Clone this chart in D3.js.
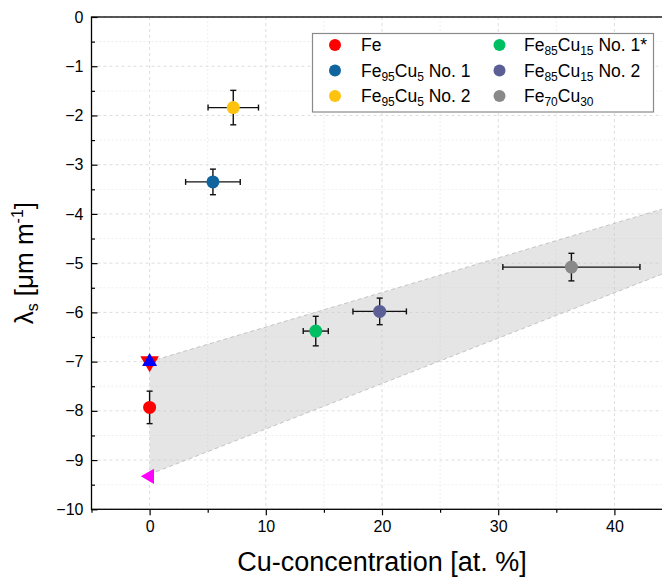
<!DOCTYPE html>
<html>
<head>
<meta charset="utf-8">
<script src="https://cdn.jsdelivr.net/npm/d3@7"></script>
<style>
  html, body { margin: 0; padding: 0; background: #fff; }
  svg { display: block; font-family: "Liberation Sans", Arial, sans-serif; }
</style>
</head>
<body>
<svg id="chart" width="662" height="579"></svg>
<script>
// Samples: Cu content (at. %) and saturation magnetostriction with uncertainties
const sampleLabels = ["Fe", "Fe_{95}Cu_{5} No. 1", "Fe_{95}Cu_{5} No. 2",
                      "Fe_{85}Cu_{15} No. 1*", "Fe_{85}Cu_{15} No. 2", "Fe_{70}Cu_{30}"];
const sampleX    = [0, 5.45, 7.2, 14.3, 19.8, 36.3];
const sampleY    = [-7.93, -3.35, -1.84, -6.38, -5.98, -5.08];
const sampleXErr = [0, 2.35, 2.17, 1.08, 2.3, 5.9];
const sampleYErr = [0.33, 0.26, 0.35, 0.3, 0.27, 0.28];
const sampleColors = ["#ff0000", "#10659e", "#ffc20e", "#00bf63", "#5c5f95", "#898989"];

// Literature values for pure Fe (triangles)
const refX = [0, 0, 0];
const refY = [-7.0, -7.0, -9.33];
const refShape = ["down", "up", "left"];
const refColors = ["#ff0000", "#0000ff", "#ff00ff"];

// Shaded expectation band (upper / lower bounds)
const bandX = [0, 45];
const bandUpper = [-7.0, -3.84];
const bandLower = [-9.29, -5.14];

// Axis ticks
const xTicks = [0, 10, 20, 30, 40];
const xMinor = [-5, 5, 15, 25, 35, 45];
const yTicks = [0, -1, -2, -3, -4, -5, -6, -7, -8, -9, -10];
const yMinor = [-0.5, -1.5, -2.5, -3.5, -4.5, -5.5, -6.5, -7.5, -8.5, -9.5];

const svg = d3.select("#chart");
const x = d3.scaleLinear().domain([-5, 45]).range([91.5, 672.5]);
const y = d3.scaleLinear().domain([-10, 0]).range([509.3, 17]);
const [x0, x1] = x.range();
const [yb, yt] = y.range();

// grid
const grid = svg.append("g");
grid.selectAll(".gxm").data(xMinor).join("line")
  .attr("x1", d => x(d)).attr("x2", d => x(d)).attr("y1", yt).attr("y2", yb)
  .attr("stroke", "#eeeeee").attr("stroke-dasharray", "2,2");
grid.selectAll(".gym").data(yMinor).join("line")
  .attr("x1", x0).attr("x2", x1).attr("y1", d => y(d)).attr("y2", d => y(d))
  .attr("stroke", "#eeeeee").attr("stroke-dasharray", "2,2");
grid.selectAll(".gx").data(xTicks).join("line")
  .attr("x1", d => x(d)).attr("x2", d => x(d)).attr("y1", yt).attr("y2", yb)
  .attr("stroke", "#dddddd").attr("stroke-dasharray", "3,3");
grid.selectAll(".gy").data(yTicks).join("line")
  .attr("x1", x0).attr("x2", x1).attr("y1", d => y(d)).attr("y2", d => y(d))
  .attr("stroke", "#dddddd").attr("stroke-dasharray", "3,3");

// band
const bandData = bandX.map((v, i) => ({ x: v, lo: bandLower[i], hi: bandUpper[i] }));
svg.append("path").datum(bandData)
  .attr("d", d3.area().x(d => x(d.x)).y0(d => y(d.lo)).y1(d => y(d.hi)))
  .attr("fill", "#c8c8c8").attr("fill-opacity", 0.48);
["lo", "hi"].forEach(k => {
  svg.append("path").datum(bandData)
    .attr("d", d3.line().x(d => x(d.x)).y(d => y(d[k])))
    .attr("fill", "none").attr("stroke", "#c4c4c4").attr("stroke-width", 1)
    .attr("stroke-dasharray", "4,3");
});

// frame
svg.append("rect").attr("x", x0).attr("y", yt).attr("width", x1 - x0).attr("height", yb - yt)
  .attr("fill", "none").attr("stroke", "#000").attr("stroke-width", 1.3);

// x axis (ticks outward)
const xAxis = svg.append("g").attr("transform", `translate(0,${yb})`)
  .call(d3.axisBottom(x).tickValues(xTicks).tickSize(6).tickPadding(5).tickFormat(d3.format("d")));
xAxis.select(".domain").remove();
xAxis.selectAll("text").attr("font-size", 16).attr("font-family", "Liberation Sans, Arial, sans-serif").attr("fill", "#000");
xAxis.selectAll("line").attr("stroke-width", 1.2);
svg.append("g").attr("transform", `translate(0,${yb})`)
  .call(d3.axisBottom(x).tickValues(xMinor).tickSize(3.5).tickFormat(""))
  .call(g => g.select(".domain").remove())
  .selectAll("line").attr("stroke-width", 1.2);

// y axis (ticks inward)
const yAxis = svg.append("g").attr("transform", `translate(${x0},0)`)
  .call(d3.axisLeft(y).tickValues(yTicks).tickSizeInner(-6).tickSizeOuter(0).tickPadding(8));
yAxis.select(".domain").remove();
yAxis.selectAll("text").attr("font-size", 16).attr("font-family", "Liberation Sans, Arial, sans-serif").attr("fill", "#000");
yAxis.selectAll("line").attr("stroke-width", 1.2);
svg.append("g").attr("transform", `translate(${x0},0)`)
  .call(d3.axisLeft(y).tickValues(yMinor).tickSizeInner(-3.5).tickSizeOuter(0).tickFormat(""))
  .call(g => g.select(".domain").remove())
  .selectAll("line").attr("stroke-width", 1.2);

// axis titles
svg.append("text").attr("x", (x0 + 672.5) / 2).attr("y", 571).attr("text-anchor", "middle")
  .attr("font-size", 27).text("Cu-concentration [at. %]");
const yTitle = svg.append("text").attr("transform", `translate(33,${(yt + yb) / 2}) rotate(-90)`)
  .attr("text-anchor", "middle").attr("font-size", 26);
yTitle.append("tspan").text("λ");
yTitle.append("tspan").attr("font-size", 16).attr("dy", 5).text("s");
yTitle.append("tspan").attr("dy", -5).text(" [μm m");
yTitle.append("tspan").attr("font-size", 16).attr("dy", -10).text("-1");
yTitle.append("tspan").attr("dy", 10).text("]");

// error bars
const eb = svg.append("g").attr("stroke", "#111").attr("stroke-width", 1.4);
const cap = 3;
sampleX.forEach((xv, i) => {
  const cx = x(xv), cy = y(sampleY[i]);
  if (sampleYErr[i] > 0) {
    const ya = y(sampleY[i] + sampleYErr[i]), yb2 = y(sampleY[i] - sampleYErr[i]);
    eb.append("line").attr("x1", cx).attr("x2", cx).attr("y1", ya).attr("y2", yb2);
    eb.append("line").attr("x1", cx - cap).attr("x2", cx + cap).attr("y1", ya).attr("y2", ya);
    eb.append("line").attr("x1", cx - cap).attr("x2", cx + cap).attr("y1", yb2).attr("y2", yb2);
  }
  if (sampleXErr[i] > 0) {
    const xa = x(xv - sampleXErr[i]), xb = x(xv + sampleXErr[i]);
    eb.append("line").attr("x1", xa).attr("x2", xb).attr("y1", cy).attr("y2", cy);
    eb.append("line").attr("x1", xa).attr("x2", xa).attr("y1", cy - cap).attr("y2", cy + cap);
    eb.append("line").attr("x1", xb).attr("x2", xb).attr("y1", cy - cap).attr("y2", cy + cap);
  }
});

// sample markers
svg.append("g").selectAll("circle").data(sampleX).join("circle")
  .attr("cx", d => x(d)).attr("cy", (d, i) => y(sampleY[i])).attr("r", 6.5)
  .attr("fill", (d, i) => sampleColors[i]);

// reference triangles
const rot = { up: 0, down: 180, left: -90 };
const triSize = { up: 97, down: 150, left: 100 };
svg.append("g").selectAll("path").data(refX).join("path")
  .attr("d", (d, i) => d3.symbol(d3.symbolTriangle, triSize[refShape[i]])())
  .attr("transform", (d, i) => `translate(${x(d)},${y(refY[i])}) rotate(${rot[refShape[i]]})`)
  .attr("fill", (d, i) => refColors[i]);

// legend
const lg = svg.append("g");
lg.append("rect").attr("x", 312.5).attr("y", 33.5).attr("width", 341).attr("height", 78.5)
  .attr("fill", "#fff").attr("stroke", "#8a8a8a").attr("stroke-width", 1.2);
const colX = [335, 499.5], textX = [361, 524];
const rowY = [51, 76.5, 102];
sampleLabels.forEach((lab, i) => {
  const c = Math.floor(i / 3), r = i % 3;
  lg.append("circle").attr("cx", colX[c]).attr("cy", rowY[r] - 6).attr("r", 6).attr("fill", sampleColors[i]);
  const t = lg.append("text").attr("x", textX[c]).attr("y", rowY[r]).attr("font-size", 17.5);
  const parts = lab.split(/(_\{[^}]*\})/).filter(s => s.length);
  let sub = false;
  parts.forEach(p => {
    if (p.startsWith("_{")) {
      t.append("tspan").attr("font-size", 12).attr("dy", sub ? 0 : 4).text(p.slice(2, -1));
      sub = true;
    } else {
      t.append("tspan").attr("dy", sub ? -4 : 0).text(p);
      sub = false;
    }
  });
});
</script>
</body>
</html>
